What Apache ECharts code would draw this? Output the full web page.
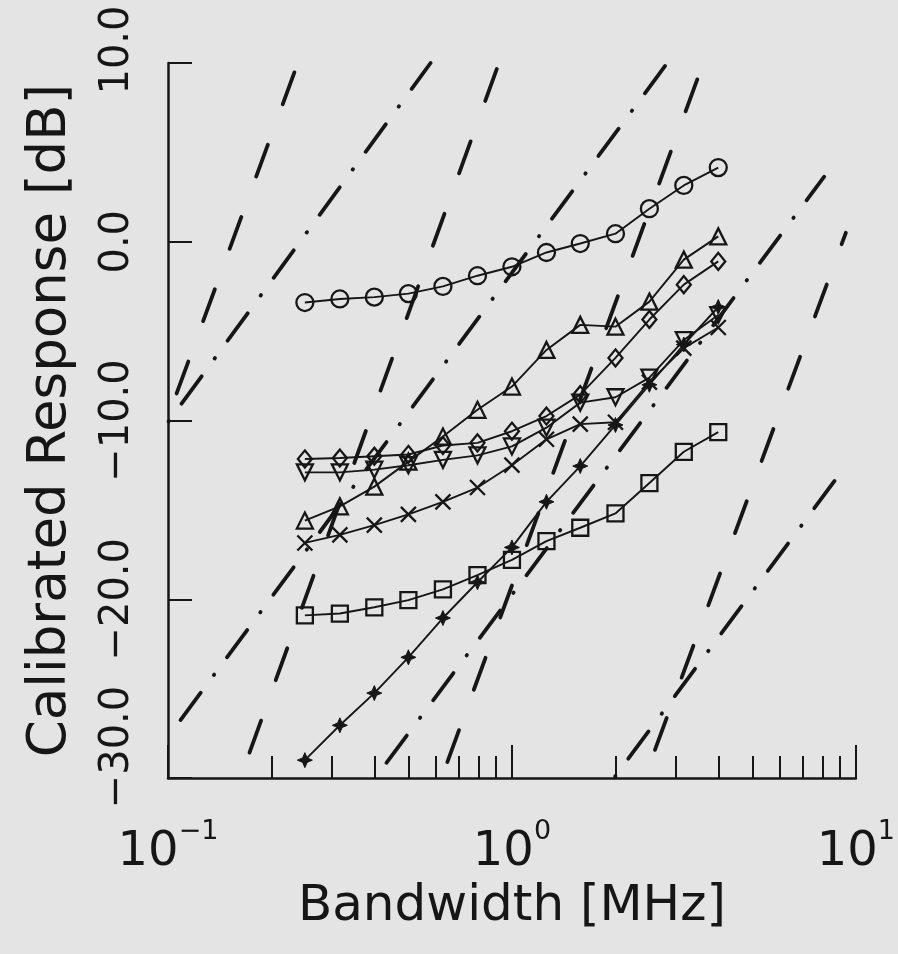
<!DOCTYPE html>
<html>
<head>
<meta charset="utf-8">
<script src="https://cdn.jsdelivr.net/npm/echarts@6/dist/echarts.min.js"></script>
<style>
  html, body { margin: 0; padding: 0; background: #e4e4e4; }
  #chart { width: 898px; height: 954px; }
</style>
</head>
<body>
<div id="chart"></div>
<script>
// bandwidth steps (MHz), 1/10 decade apart
const freqMHz = [0.25, 0.316, 0.398, 0.5, 0.63, 0.794, 1.0, 1.26, 1.58, 2.0, 2.51, 3.16, 3.98];

// calibrated response (dB) per marker series
const circleDb      = [-3.4, -3.2, -3.1, -2.9, -2.5, -1.9, -1.4, -0.6, -0.1, 0.45, 1.85, 3.15, 4.15];
const triangleDb    = [-15.6, -14.8, -13.7, -12.3, -10.9, -9.4, -8.1, -6.05, -4.65, -4.75, -3.35, -1.0, 0.3];
const diamondDb     = [-12.15, -12.1, -12.0, -11.9, -11.4, -11.25, -10.6, -9.75, -8.55, -6.5, -4.35, -2.4, -1.1];
const invTriangleDb = [-12.9, -12.9, -12.75, -12.5, -12.2, -11.95, -11.45, -10.4, -9.0, -8.7, -7.6, -5.5, -4.1];
const crossDb       = [-16.85, -16.4, -15.85, -15.25, -14.55, -13.75, -12.5, -11.05, -10.2, -10.1, -7.85, -5.95, -4.8];
const starDb        = [-29.0, -27.05, -25.25, -23.25, -21.05, -19.05, -17.1, -14.55, -12.55, -10.25, -8.0, -5.75, -3.65];
const squareDb      = [-20.9, -20.8, -20.45, -20.05, -19.45, -18.65, -17.8, -16.75, -16.0, -15.2, -13.5, -11.75, -10.65];

// reference lines, [start, end] as [MHz, dB]
const refDashed = [
  [[0.1, -9.8], [0.2385, 10]],
  [[0.1623, -30], [0.917, 10]],
  [[0.624, -30], [3.6, 10]],
  [[2.43, -30], [9.35, 0.5]]
];
const refDashDot = [
  [[0.1, -10.1], [0.58, 10]],
  [[0.1, -27.7], [2.83, 10]],
  [[0.4, -30], [8.09, 3.64]],
  [[1.98, -30], [8.81, -13.2]]
];

// axis ticks
const yTicks = [-30, -20, -10, 0, 10];
const xMajorTicks = [0.1, 1, 10];
const xMinorTicks = [0.2, 0.3, 0.4, 0.5, 0.6, 0.7, 0.8, 0.9, 2, 3, 4, 5, 6, 7, 8, 9];

const ink = '#161616';
const font = 'DejaVu Sans';
const dashedOffsets = [52, 50, 60, 47];
const dashDotOffsets = [55, 57, 59, 54];

const chart = echarts.init(document.getElementById('chart'));

function pairs(ys) {
  return freqMHz.map((f, i) => [f, ys[i]]);
}

function markerSeries(name, ys, symbol, size, extra) {
  return Object.assign({
    name: name,
    type: 'line',
    data: pairs(ys),
    symbol: symbol,
    symbolSize: size,
    showAllSymbol: true,
    lineStyle: { color: ink, width: 1.9 },
    itemStyle: { color: 'rgba(0,0,0,0)', borderColor: ink, borderWidth: 2.3 },
    z: 5
  }, extra || {})
}

const series = [];

refDashed.forEach((seg, i) => {
  series.push({
    type: 'line',
    data: seg,
    showSymbol: false,
    silent: true,
    lineStyle: { color: ink, width: 3.8, type: [34, 43], dashOffset: dashedOffsets[i], cap: 'round' },
    z: 3
  })
})
refDashDot.forEach((seg, i) => {
  series.push({
    type: 'line',
    data: seg,
    showSymbol: false,
    silent: true,
    lineStyle: { color: ink, width: 3.8, type: [34, 22, 0.5, 21.5], dashOffset: dashDotOffsets[i], cap: 'round' },
    z: 3
  })
})

series.push(markerSeries('circle', circleDb, 'circle', 17))
series.push(markerSeries('triangle', triangleDb, 'triangle', 16))
series.push(markerSeries('diamond', diamondDb, 'diamond', [14, 17]))
series.push(markerSeries('invTriangle', invTriangleDb, 'triangle', 16, { symbolRotate: 180 }))
series.push(markerSeries('cross', crossDb, 'path://M0,0L10,10M0,10L10,0', 15))
series.push(markerSeries('star', starDb, 'path://M5,0L6.5,3.5L10,5L6.5,6.5L5,10L3.5,6.5L0,5L3.5,3.5Z', 15, {
  itemStyle: { color: ink, borderColor: ink, borderWidth: 1 }
}))
series.push(markerSeries('square', squareDb, 'rect', 16))

const option = {
  backgroundColor: '#e4e4e4',
  animation: false,
  grid: { left: 168, right: 36, top: 63, bottom: 176 },
  xAxis: [
    {
      type: 'log',
      logBase: 10,
      min: 0.1,
      max: 10,
      name: 'Bandwidth [MHz]',
      nameLocation: 'middle',
      nameGap: 103,
      nameTextStyle: { fontFamily: font, fontSize: 50, color: ink },
      axisLine: { show: true, onZero: false, lineStyle: { color: ink, width: 2.5 } },
      axisTick: { show: true, inside: true, length: 33, customValues: xMajorTicks, lineStyle: { color: ink, width: 2 } },
      axisLabel: {
        margin: 40,
        customValues: xMajorTicks,
        formatter: function (v) {
          const e = Math.round(Math.log10(v));
          return '{b|10}{e|' + (e < 0 ? '\u2212' + (-e) : e) + '}';
        },
        rich: {
          b: { fontFamily: font, fontSize: 48, color: ink, lineHeight: 70 },
          e: { fontFamily: font, fontSize: 27, color: ink, lineHeight: 30, verticalAlign: 'top' }
        }
      },
      splitLine: { show: false },
      minorTick: { show: false }
    },
    {
      type: 'log',
      logBase: 10,
      min: 0.1,
      max: 10,
      position: 'bottom',
      axisLine: { show: false, onZero: false },
      axisTick: { show: true, inside: true, length: 22, customValues: xMinorTicks, lineStyle: { color: ink, width: 2 } },
      axisLabel: { show: false },
      splitLine: { show: false }
    }
  ],
  yAxis: {
    type: 'value',
    min: -30,
    max: 10,
    interval: 10,
    name: 'Calibrated Response [dB]',
    nameLocation: 'middle',
    nameGap: 90,
    nameTextStyle: { fontFamily: font, fontSize: 53, color: ink },
    axisLine: { show: true, onZero: false, lineStyle: { color: ink, width: 2.5 } },
    axisTick: { show: true, inside: true, length: 24, customValues: yTicks, lineStyle: { color: ink, width: 2 } },
    axisLabel: {
      rotate: 90,
      margin: 30,
      color: ink,
      formatter: function (v) {
        const txt = (v < 0 ? '\u2212' : '') + Math.abs(v).toFixed(1);
        // end labels are pulled up inside the axis span, as in the original
        if (v === -30) return '{lo|' + txt + '}';
        if (v === 10) return '{hi|' + txt + '}';
        return '{n|' + txt + '}';
      },
      rich: {
        n: { fontFamily: font, fontSize: 40, color: ink },
        lo: { fontFamily: font, fontSize: 40, color: ink, padding: [0, 0, 0, 62] },
        hi: { fontFamily: font, fontSize: 40, color: ink, padding: [0, 0, 0, 26] }
      }
    },
    splitLine: { show: false }
  },
  series: series
};

chart.setOption(option);
</script>
</body>
</html>
